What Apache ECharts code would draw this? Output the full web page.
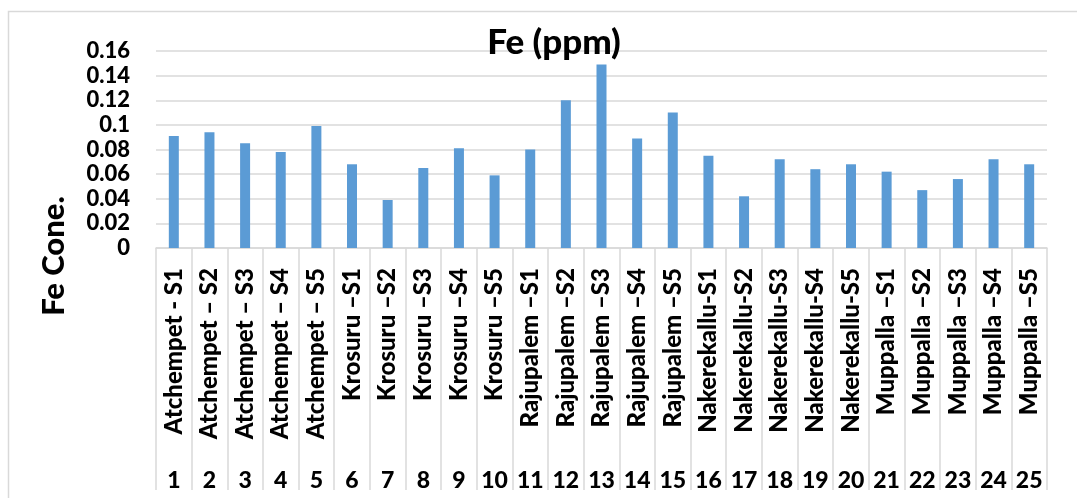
<!DOCTYPE html>
<html><head><meta charset="utf-8">
<script src="https://cdn.jsdelivr.net/npm/echarts@6/dist/echarts.min.js"></script>
<style>html,body{margin:0;padding:0;background:#fff}#c{width:1077px;height:498px}</style>
</head><body><div id="c"></div>
<script>
const categories = ["Atchempet - S1","Atchempet – S2","Atchempet – S3","Atchempet – S4","Atchempet – S5",
"Krosuru –S1","Krosuru –S2","Krosuru –S3","Krosuru –S4","Krosuru –S5",
"Rajupalem –S1","Rajupalem –S2","Rajupalem –S3","Rajupalem –S4","Rajupalem –S5",
"Nakerekallu-S1","Nakerekallu-S2","Nakerekallu-S3","Nakerekallu-S4","Nakerekallu-S5",
"Muppalla –S1","Muppalla –S2","Muppalla –S3","Muppalla –S4","Muppalla –S5"];
const sampleNumbers = ["1","2","3","4","5","6","7","8","9","10","11","12","13","14","15","16","17","18","19","20","21","22","23","24","25"];
const feValues = [0.091,0.094,0.085,0.078,0.099,0.068,0.039,0.065,0.081,0.059,
0.080,0.120,0.149,0.089,0.110,0.075,0.042,0.072,0.064,0.068,0.062,0.047,0.056,0.072,0.068];
const yTicks = {min:0, max:0.16, interval:0.02};

const chart = echarts.init(document.getElementById('c'));
const F = 'Lato, "Open Sans", sans-serif';
const W = 900;
chart.setOption({
  animation:false,
  title:{text:'Fe (ppm)', left:549, top:20, textAlign:'center',
    textStyle:{fontFamily:F, fontWeight:W, fontSize:35, color:'#000'}},
  graphic:[
    {type:'rect', shape:{x:8.5,y:11.5,width:1100,height:520}, style:{fill:'none',stroke:'#d9d9d9',lineWidth:1.5}, z:-1},
    {type:'text', x:54, y:256, rotation:Math.PI/2,
      style:{text:'Fe Cone.', font:W+' 31px '+F, fill:'#000', textAlign:'center', textVerticalAlign:'middle'}}
  ],
  grid:{left:156, right:30, top:51, bottom:250},
  xAxis:[
    {type:'category', data:categories, position:'bottom',
     axisLine:{lineStyle:{color:'#d9d9d9', width:1.5}},
     axisTick:{show:true, interval:0, length:242, lineStyle:{color:'#d9d9d9', width:1.5}},
     axisLabel:{interval:0, rotate:90, margin:20, fontFamily:F, fontWeight:W, fontSize:24, color:'#000'}},
    {type:'category', data:sampleNumbers, position:'bottom',
     axisLine:{show:false}, axisTick:{show:false},
     axisLabel:{interval:0, margin:221, fontFamily:F, fontWeight:W, fontSize:23, color:'#000'}}
  ],
  yAxis:{type:'value', min:yTicks.min, max:yTicks.max, interval:yTicks.interval,
    axisLine:{show:false}, axisTick:{show:false},
    splitLine:{lineStyle:{color:'#d9d9d9', width:1.5}},
    axisLabel:{margin:26, fontFamily:F, fontWeight:W, fontSize:22, color:'#000',
      formatter:v=>String(+v.toFixed(2))}},
  series:[{type:'bar', data:feValues, barWidth:10, itemStyle:{color:'#5b9bd5'}, xAxisIndex:0}]
});
</script></body></html>
